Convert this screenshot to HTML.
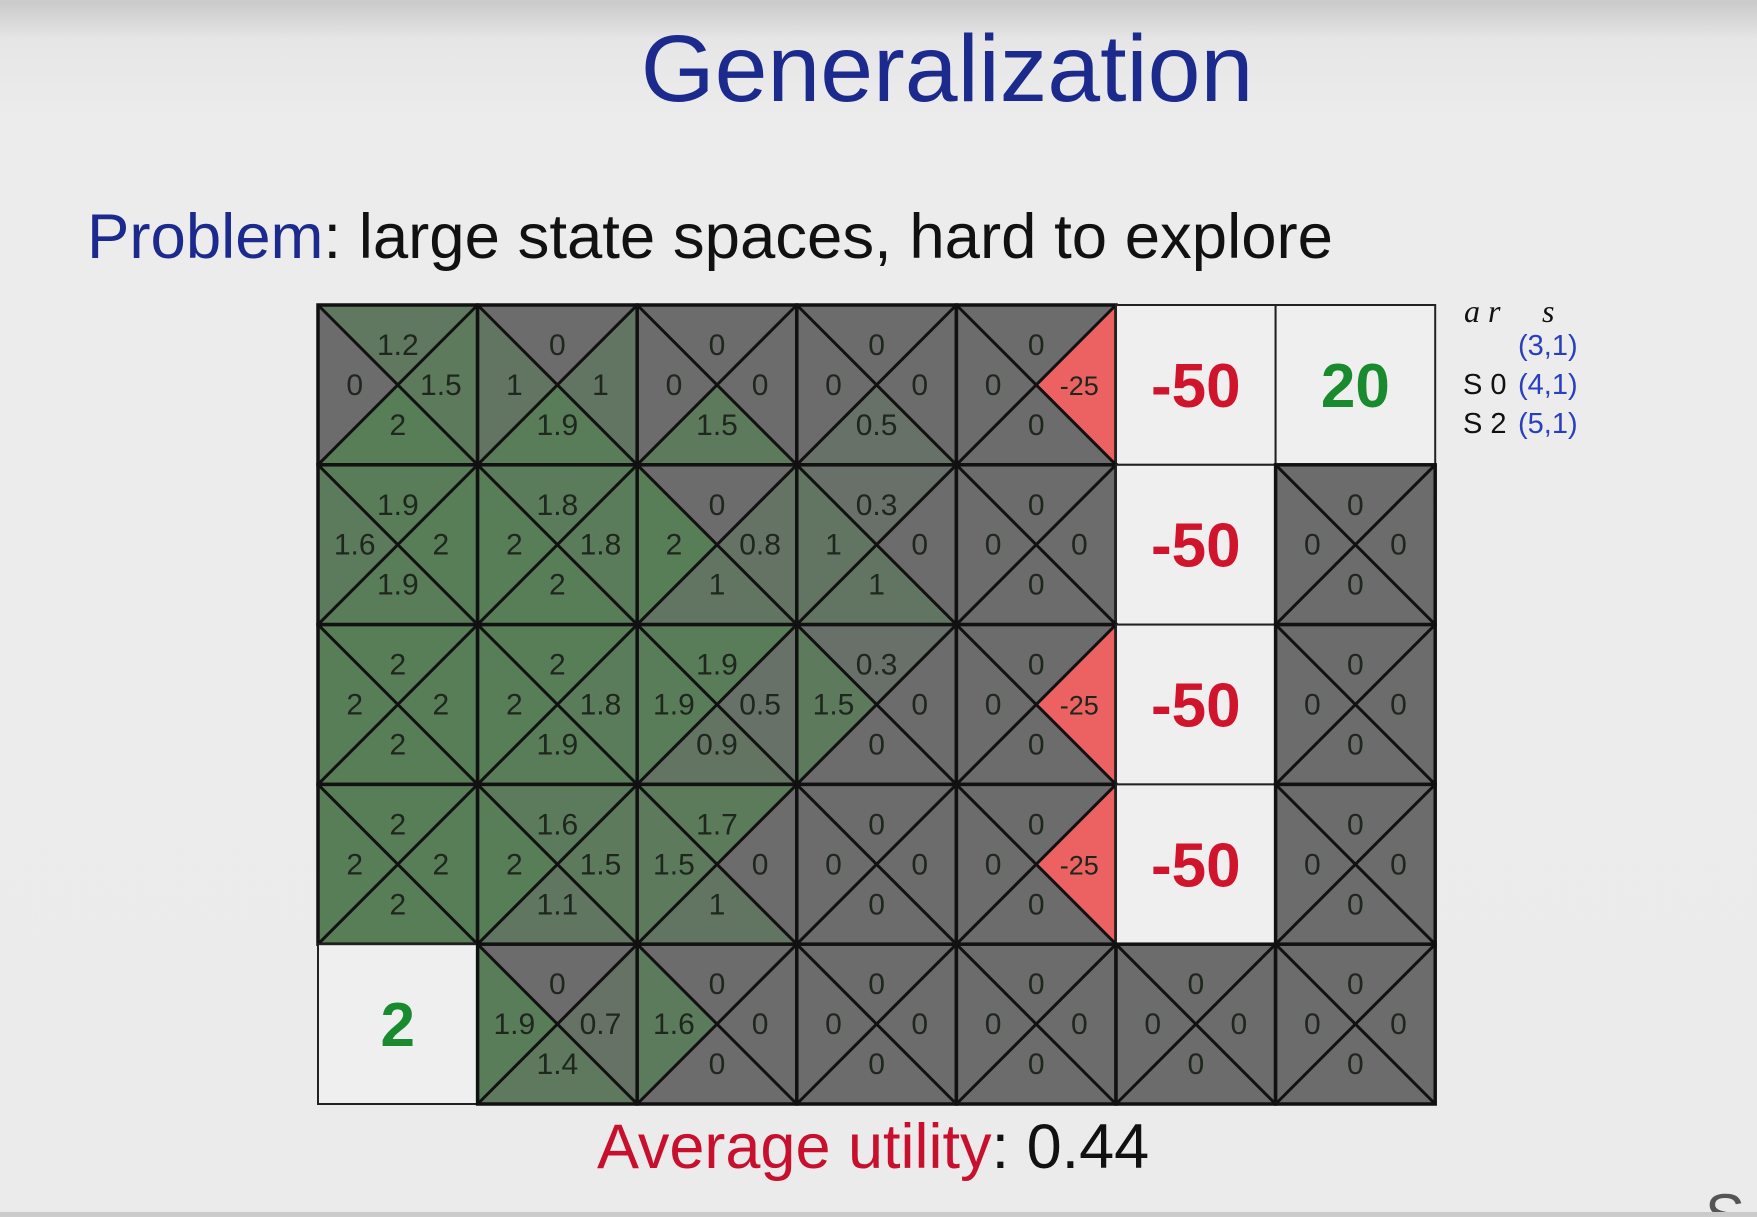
<!DOCTYPE html>
<html><head><meta charset="utf-8">
<style>
html,body{margin:0;padding:0;}
body{width:1757px;height:1212px;overflow:hidden;background:linear-gradient(#c9c9c9 0px,#e6e6e6 40px,#ececec 120px,#ebebeb 100%);font-family:"Liberation Sans",sans-serif;}
</style></head><body>
<svg id="chart" width="1757" height="1212" viewBox="0 0 1757 1212" xmlns="http://www.w3.org/2000/svg" font-family="Liberation Sans, sans-serif">
<text x="947" y="101" font-size="95" fill="#1b2a8c" text-anchor="middle">Generalization</text>
<text x="87" y="258" font-size="63.5" fill="#111"><tspan fill="#1b2a8c">Problem</tspan>: large state spaces, hard to explore</text>
<g id="grid"></g>
<g font-size="29">
<text x="1464" y="322" font-family="Liberation Serif, serif" font-style="italic" font-size="32" fill="#111">a r</text>
<text x="1542" y="322" font-family="Liberation Serif, serif" font-style="italic" font-size="32" fill="#111">s</text>
<text x="1518" y="355" fill="#2a3fc0">(3,1)</text>
<text x="1463" y="394" fill="#111">S 0</text><text x="1518" y="394" fill="#2a3fc0">(4,1)</text>
<text x="1463" y="433" fill="#111">S 2</text><text x="1518" y="433" fill="#2a3fc0">(5,1)</text>
</g>
<text x="597" y="1168" font-size="63" fill="#111"><tspan fill="#c8102e">Average utility</tspan>: 0.44</text>
<text x="1705" y="1236" font-size="60" fill="#555">S</text>
</svg>
<script>
// Q-values per cell: [up, right, down, left]; terminals as numbers
const row0 = [[1.2,1.5,2,0],[0,1,1.9,1],[0,0,1.5,0],[0,0,0.5,0],[0,-25,0,0],-50,20];
const row1 = [[1.9,2,1.9,1.6],[1.8,1.8,2,2],[0,0.8,1,2],[0.3,0,1,1],[0,0,0,0],-50,[0,0,0,0]];
const row2 = [[2,2,2,2],[2,1.8,1.9,2],[1.9,0.5,0.9,1.9],[0.3,0,0,1.5],[0,-25,0,0],-50,[0,0,0,0]];
const row3 = [[2,2,2,2],[1.6,1.5,1.1,2],[1.7,0,1,1.5],[0,0,0,0],[0,-25,0,0],-50,[0,0,0,0]];
const row4 = [2,[0,0.7,1.4,1.9],[0,0,0,1.6],[0,0,0,0],[0,0,0,0],[0,0,0,0],[0,0,0,0]];
const rows = [row0,row1,row2,row3,row4];

const X0=318, Y0=305, CW=159.6, CH=159.8;
const xs = c => X0 + c*CW;
const ys = r => Y0 + r*CH;
const NS="http://www.w3.org/2000/svg";
const g=document.getElementById('grid');
function mk(t,a){const e=document.createElementNS(NS,t);for(const k in a)e.setAttribute(k,a[k]);return e;}
function color(v){
  if(v<0) return '#ec6262';
  const t=Math.min(v/2,1);
  const a=[108,108,108], b=[88,126,88];
  return 'rgb('+a.map((x,i)=>Math.round(x+(b[i]-x)*t)).join(',')+')';
}
function fmt(v){return String(v);}
rows.forEach((row,r)=>{
  row.forEach((cell,c)=>{
    const x=xs(c), y=ys(r), x2=xs(c+1), y2=ys(r+1), cx=(x+x2)/2, cy=(y+y2)/2;
    if(typeof cell==='number'){
      const rc=mk('rect',{x:x,y:y,width:CW,height:CH,fill:'#efefef',stroke:'#222','stroke-width':2});
      
      
      g.appendChild(rc);
      const t=mk('text',{x:cx,y:cy+22,'text-anchor':'middle','font-size':62,'font-weight':'bold',fill:cell<0?'#d0142c':'#1a8a2e'});
      t.textContent=fmt(cell);
      
      
      g.appendChild(t);
      return;
    }
    const tris=[[[x,y],[x2,y],[cx,cy]],[[x2,y],[x2,y2],[cx,cy]],[[x,y2],[x2,y2],[cx,cy]],[[x,y],[x,y2],[cx,cy]]];
    const pos=[[cx,y+CH*0.25],[x+CW*0.77,cy],[cx,y+CH*0.75],[x+CW*0.23,cy]];
    cell.forEach((v,i)=>{
      const p=mk('polygon',{points:tris[i].map(q=>q.join(',')).join(' '),fill:color(v)});
      
      
      g.appendChild(p);
    });
    cell.forEach((v,i)=>{
      const t=mk('text',{x:pos[i][0],y:pos[i][1]+10,'text-anchor':'middle','font-size':v<0?27:30,fill:'#1e261e'});
      t.textContent=fmt(v);
      
      
      g.appendChild(t);
    });
    const l1=mk('line',{x1:x,y1:y,x2:x2,y2:y2,stroke:'#111','stroke-width':3});
    
    
    g.appendChild(l1);
    const l2=mk('line',{x1:x2,y1:y,x2:x,y2:y2,stroke:'#111','stroke-width':3});
    
    
    g.appendChild(l2);
    const b=mk('rect',{x:x,y:y,width:CW,height:CH,fill:'none',stroke:'#111','stroke-width':3.5});
    
    
    g.appendChild(b);
  });
});
</script>
</body></html>
